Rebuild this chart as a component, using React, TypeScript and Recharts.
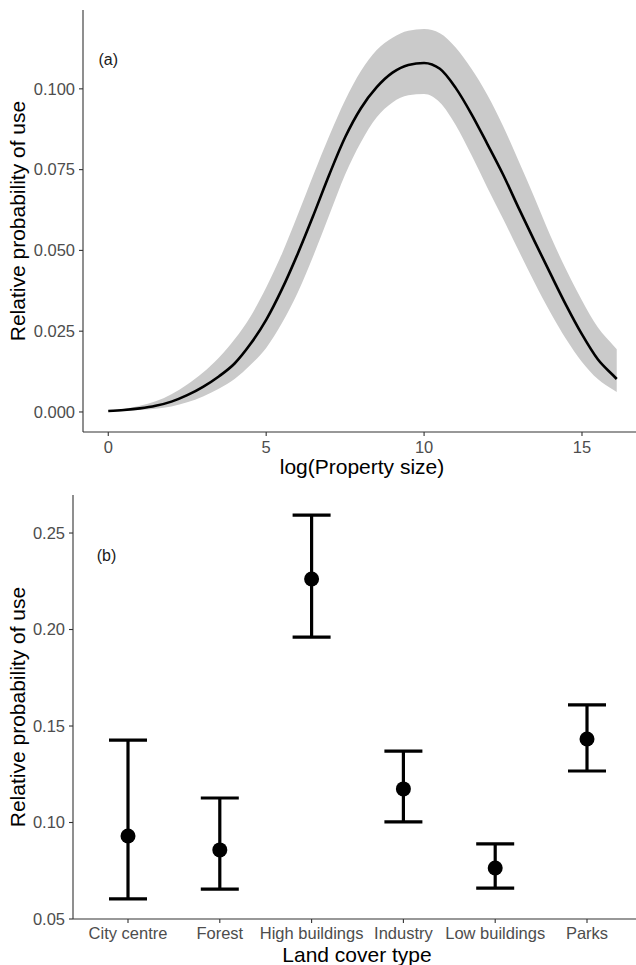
import React from "react";
import {
  ComposedChart,
  Line,
  Area,
  XAxis,
  YAxis,
  ErrorBar,
  ReferenceDot,
} from "recharts";

// Panel (a)
const logSize = [0, 0.5, 1, 1.5, 2, 2.5, 3, 3.5, 4, 4.5, 5, 5.5, 6, 6.5, 7, 7.5, 8, 8.5, 9, 9.5, 10, 10.5, 11, 11.5, 12, 12.5, 13, 13.5, 14, 14.5, 15, 15.5, 16, 16.1];
const fitted = [0.0003, 0.0006, 0.0011, 0.0019, 0.0032, 0.0052, 0.0078, 0.011, 0.015, 0.021, 0.0285, 0.038, 0.049, 0.061, 0.0735, 0.085, 0.094, 0.1005, 0.105, 0.1074, 0.108, 0.1062, 0.1003, 0.0922, 0.083, 0.0735, 0.063, 0.0528, 0.0428, 0.033, 0.024, 0.0163, 0.0112, 0.0102];
const ciUpper = [0.0005, 0.001, 0.0019, 0.0033, 0.0055, 0.0085, 0.0122, 0.0168, 0.0225, 0.0295, 0.0385, 0.049, 0.061, 0.0735, 0.0855, 0.0965, 0.1055, 0.112, 0.1158, 0.118, 0.1185, 0.1172, 0.1128, 0.1062, 0.0982, 0.0885, 0.0775, 0.0662, 0.0545, 0.044, 0.0345, 0.0262, 0.0205, 0.0194];
const ciLower = [0.0001, 0.0003, 0.0006, 0.001, 0.0017, 0.003, 0.0048, 0.0072, 0.0102, 0.0145, 0.0198, 0.0275, 0.037, 0.0485, 0.061, 0.0735, 0.0835, 0.0912, 0.0958, 0.098, 0.0984, 0.0958, 0.0888, 0.0795, 0.0695, 0.0598, 0.0498, 0.04, 0.0308, 0.0225, 0.0155, 0.0102, 0.0068, 0.0062];
const ticksA = [0, 0.025, 0.05, 0.075, 0.1];
const xTicksA = [0, 5, 10, 15];

// Panel (b)
const landCover = ["City centre", "Forest", "High buildings", "Industry", "Low buildings", "Parks"];
const estimate = [0.093, 0.0858, 0.2262, 0.1174, 0.0764, 0.1433];
const lowerB = [0.0604, 0.0655, 0.1961, 0.1003, 0.066, 0.1267];
const upperB = [0.1427, 0.1127, 0.2593, 0.137, 0.0889, 0.1609];
const ticksB = [0.05, 0.1, 0.15, 0.2, 0.25];

const dataA = logSize.map((x, i) => ({
  x,
  fit: fitted[i],
  band: [ciLower[i], ciUpper[i]],
}));

const dataB = landCover.map((c, i) => ({
  cat: c,
  est: estimate[i],
  err: [estimate[i] - lowerB[i], upperB[i] - estimate[i]],
}));

const FONT = "'Liberation Sans', Arial, sans-serif";
const tickStyle = { fill: "#4d4d4d", fontSize: 16.5, fontFamily: FONT };
const axisLine = { stroke: "#333333", strokeWidth: 1.1 };
const tickLine = { stroke: "#333333", strokeWidth: 1.1 };

const YTitle = (props: any) => {
  const vb = props.viewBox;
  const cy = vb.y + vb.height / 2;
  const x = 25;
  return (
    <text
      x={x}
      y={cy}
      transform={`rotate(-90, ${x}, ${cy})`}
      textAnchor="middle"
      fontSize={21}
      fontFamily={FONT}
      fill="#000"
    >
      Relative probability of use
    </text>
  );
};

const makeXTitle = (text: string, baseline: number, cx: number) => (props: any) => {
  return (
    <text x={cx} y={baseline} textAnchor="middle" fontSize={21} fontFamily={FONT} fill="#000">
      {text}
    </text>
  );
};

const makeXTick = (dyBase: number) => (props: any) => {
  const { x, y, payload } = props;
  return (
    <text x={x} y={y + dyBase} textAnchor="middle" fontSize={16.5} fontFamily={FONT} fill="#4d4d4d">
      {payload.value}
    </text>
  );
};

const PanelLabel = (text: string, dx: number) => (props: any) => (
  <text
    x={props.cx + dx}
    y={props.cy}
    textAnchor="middle"
    dominantBaseline="central"
    fontSize={16}
    fontFamily={FONT}
    fill="#1a1a1a"
  >
    {text}
  </text>
);

export default function App() {
  return (
    <div style={{ position: "absolute", left: 0, top: 0, width: 636, height: 965, overflow: "hidden", background: "#fff" }}>
      <div style={{ position: "absolute", left: 0, top: 0 }}>
        <ComposedChart width={642} height={480} data={dataA} margin={{ top: 10, right: 0, bottom: 0, left: 0 }}>
          <XAxis
            dataKey="x"
            type="number"
            domain={[-0.8, 16.9]}
            ticks={xTicksA}
            allowDataOverflow
            height={48}
            tick={makeXTick(17)}
            tickSize={4}
            tickMargin={0}
            axisLine={axisLine}
            tickLine={tickLine}
            label={{ content: makeXTitle("log(Property size)", 474, 362) }}
          />
          <YAxis
            type="number"
            domain={[-0.0062, 0.1244]}
            ticks={ticksA}
            allowDataOverflow
            width={83}
            tick={tickStyle}
            tickSize={4}
            tickMargin={4}
            axisLine={axisLine}
            tickLine={tickLine}
            tickFormatter={(v: number) => v.toFixed(3)}
            label={{ content: YTitle }}
          />
          <Area
            dataKey="band"
            type="monotone"
            stroke="none"
            fill="#cacaca"
            fillOpacity={1}
            isAnimationActive={false}
            activeDot={false}
          />
          <Line
            dataKey="fit"
            type="monotone"
            stroke="#000"
            strokeWidth={2.6}
            dot={false}
            activeDot={false}
            isAnimationActive={false}
          />
          <ReferenceDot x={0} y={0.109} r={0} ifOverflow="visible" shape={PanelLabel("(a)", 0)} />
        </ComposedChart>
      </div>
      <div style={{ position: "absolute", left: 0, top: 480 }}>
        <ComposedChart width={642} height={485} data={dataB} margin={{ top: 15, right: 0, bottom: 0, left: 0 }}>
          <XAxis
            dataKey="cat"
            type="category"
            padding={{ left: 55, right: 55 }}
            height={46}
            tick={makeXTick(16)}
            tickSize={4}
            tickMargin={0}
            axisLine={axisLine}
            tickLine={tickLine}
            interval={0}
            label={{ content: makeXTitle("Land cover type", 482, 357) }}
          />
          <YAxis
            type="number"
            domain={[0.05, 0.2697]}
            ticks={ticksB}
            allowDataOverflow
            width={73}
            tick={tickStyle}
            tickSize={4}
            tickMargin={4}
            axisLine={axisLine}
            tickLine={tickLine}
            tickFormatter={(v: number) => v.toFixed(2)}
            label={{ content: YTitle }}
          />
          <Line
            dataKey="est"
            stroke="none"
            dot={{ r: 7.5, fill: "#000", stroke: "none" }}
            activeDot={false}
            isAnimationActive={false}
          >
            <ErrorBar dataKey="err" width={19} strokeWidth={3.2} stroke="#000" direction="y" />
          </Line>
          <ReferenceDot x="City centre" y={0.2386} r={0} ifOverflow="visible" shape={PanelLabel("(b)", -21.5)} />
        </ComposedChart>
      </div>
    </div>
  );
}
